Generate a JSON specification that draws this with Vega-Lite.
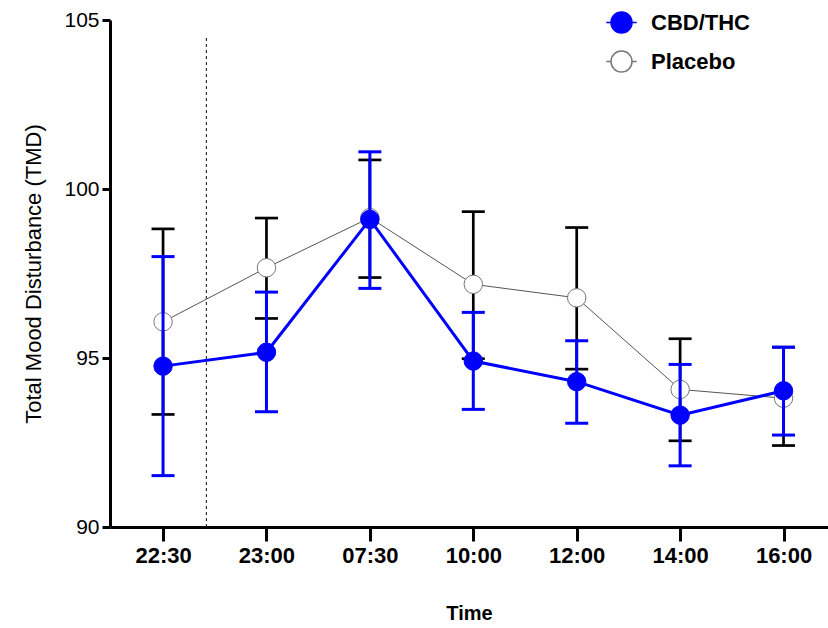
{
  "$schema": "https://vega.github.io/schema/vega-lite/v6.json",
  "width": 718,
  "height": 507,
  "autosize": {"type": "none"},
  "padding": {"left": 110, "top": 20, "right": 0, "bottom": 101},
  "background": "white",
  "config": {
    "view": {"stroke": null},
    "font": "Liberation Sans",
    "axis": {"grid": false, "domainColor": "black", "domainWidth": 3, "tickColor": "black", "tickWidth": 3, "labelColor": "black", "titleColor": "black", "labelFont": "Liberation Sans", "titleFont": "Liberation Sans"}
  },
  "data": {
    "values": [
      {"t": 0, "group": "CBD/THC", "mean": 94.76, "lo": 91.52, "hi": 98.0},
      {"t": 1, "group": "CBD/THC", "mean": 95.17, "lo": 93.41, "hi": 96.95},
      {"t": 2, "group": "CBD/THC", "mean": 99.1, "lo": 97.06, "hi": 101.1},
      {"t": 3, "group": "CBD/THC", "mean": 94.91, "lo": 93.48, "hi": 96.35},
      {"t": 4, "group": "CBD/THC", "mean": 94.3, "lo": 93.07, "hi": 95.51},
      {"t": 5, "group": "CBD/THC", "mean": 93.31, "lo": 91.81, "hi": 94.81},
      {"t": 6, "group": "CBD/THC", "mean": 94.03, "lo": 92.72, "hi": 95.32},
      {"t": 0, "group": "Placebo", "mean": 96.07, "lo": 93.33, "hi": 98.82},
      {"t": 1, "group": "Placebo", "mean": 97.67, "lo": 96.17, "hi": 99.14},
      {"t": 2, "group": "Placebo", "mean": 99.15, "lo": 97.38, "hi": 100.86},
      {"t": 3, "group": "Placebo", "mean": 97.18, "lo": 94.98, "hi": 99.33},
      {"t": 4, "group": "Placebo", "mean": 96.78, "lo": 94.67, "hi": 98.86},
      {"t": 5, "group": "Placebo", "mean": 94.07, "lo": 92.55, "hi": 95.57},
      {"t": 6, "group": "Placebo", "mean": 93.81, "lo": 92.41, "hi": 95.32}
    ]
  },
  "layer": [
    {
      "mark": {"type": "rule", "color": "#333333", "strokeWidth": 1, "strokeDash": [3, 3]},
      "encoding": {
        "x": {"datum": 0.42, "type": "quantitative"},
        "y": {"datum": 90, "type": "quantitative"},
        "y2": {"datum": 104.55}
      }
    },
    {
      "transform": [{"filter": "datum.group === 'Placebo'"}],
      "mark": {"type": "line", "color": "#555555", "strokeWidth": 1},
      "encoding": {
        "x": {
          "field": "t", "type": "quantitative",
          "scale": {"domain": [-0.513, 6.43], "nice": false, "zero": false},
          "axis": {
            "values": [0, 1, 2, 3, 4, 5, 6],
            "labelExpr": "['22:30','23:00','07:30','10:00','12:00','14:00','16:00'][datum.value]",
            "tickSize": 14, "labelPadding": 4, "labelFontSize": 22, "labelFontWeight": "bold",
            "title": "Time", "titleFontSize": 20, "titleFontWeight": "bold", "titlePadding": 37
          }
        },
        "y": {
          "field": "mean", "type": "quantitative",
          "scale": {"domain": [90, 105], "nice": false, "zero": false},
          "axis": {
            "values": [90, 95, 100, 105],
            "tickSize": 8, "labelPadding": 3, "labelFontSize": 21,
            "title": "Total Mood Disturbance (TMD)", "titleFontSize": 22, "titleFontWeight": "normal", "titlePadding": 18
          }
        }
      }
    },
    {
      "transform": [{"filter": "datum.group === 'Placebo'"}],
      "mark": {"type": "rule", "color": "black", "strokeWidth": 2.7},
      "encoding": {
        "x": {"field": "t", "type": "quantitative"},
        "y": {"field": "lo", "type": "quantitative"},
        "y2": {"field": "hi"}
      }
    },
    {
      "transform": [{"filter": "datum.group === 'Placebo'"}, {"fold": ["lo", "hi"], "as": ["end", "val"]}],
      "mark": {"type": "tick", "orient": "horizontal", "color": "black", "size": 23, "thickness": 2.7, "opacity": 1},
      "encoding": {
        "x": {"field": "t", "type": "quantitative"},
        "y": {"field": "val", "type": "quantitative"}
      }
    },
    {
      "transform": [{"filter": "datum.group === 'Placebo'"}],
      "mark": {"type": "point", "shape": "circle", "size": 340, "strokeWidth": 1, "opacity": 1, "filled": false},
      "encoding": {
        "x": {"field": "t", "type": "quantitative"},
        "y": {"field": "mean", "type": "quantitative"},
        "fill": {
          "field": "group", "type": "nominal",
          "scale": {"domain": ["CBD/THC", "Placebo"], "range": ["#0000ff", "#ffffff"]},
          "legend": {
            "title": null, "orient": "none", "legendX": 500, "legendY": -9,
            "symbolType": "M-1.45,0L-1,0M1,0L1.45,0M-1,0A1,1,0,1,1,1,0A1,1,0,1,1,-1,0Z",
            "symbolSize": 441, "symbolStrokeWidth": 1.5, "labelFontSize": 22, "labelFontWeight": "bold",
            "labelColor": "black", "labelOffset": 18, "rowPadding": 12
          }
        },
        "stroke": {
          "field": "group", "type": "nominal",
          "scale": {"domain": ["CBD/THC", "Placebo"], "range": ["#0000ff", "#777777"]},
          "legend": {
            "title": null, "orient": "none", "legendX": 500, "legendY": -9,
            "symbolType": "M-1.45,0L-1,0M1,0L1.45,0M-1,0A1,1,0,1,1,1,0A1,1,0,1,1,-1,0Z",
            "symbolSize": 441, "symbolStrokeWidth": 1.5, "labelFontSize": 22, "labelFontWeight": "bold",
            "labelColor": "black", "labelOffset": 18, "rowPadding": 12
          }
        }
      }
    },
    {
      "transform": [{"filter": "datum.group === 'CBD/THC'"}],
      "mark": {"type": "line", "color": "#0000ff", "strokeWidth": 3},
      "encoding": {
        "x": {"field": "t", "type": "quantitative"},
        "y": {"field": "mean", "type": "quantitative"}
      }
    },
    {
      "transform": [{"filter": "datum.group === 'CBD/THC'"}],
      "mark": {"type": "rule", "color": "#0000ff", "strokeWidth": 3},
      "encoding": {
        "x": {"field": "t", "type": "quantitative"},
        "y": {"field": "lo", "type": "quantitative"},
        "y2": {"field": "hi"}
      }
    },
    {
      "transform": [{"filter": "datum.group === 'CBD/THC'"}, {"fold": ["lo", "hi"], "as": ["end", "val"]}],
      "mark": {"type": "tick", "orient": "horizontal", "color": "#0000ff", "size": 23, "thickness": 3, "opacity": 1},
      "encoding": {
        "x": {"field": "t", "type": "quantitative"},
        "y": {"field": "val", "type": "quantitative"}
      }
    },
    {
      "transform": [{"filter": "datum.group === 'CBD/THC'"}],
      "mark": {"type": "point", "shape": "circle", "size": 340, "strokeWidth": 1, "opacity": 1, "filled": false},
      "encoding": {
        "x": {"field": "t", "type": "quantitative"},
        "y": {"field": "mean", "type": "quantitative"},
        "fill": {"field": "group", "type": "nominal"},
        "stroke": {"field": "group", "type": "nominal"}
      }
    }
  ]
}
